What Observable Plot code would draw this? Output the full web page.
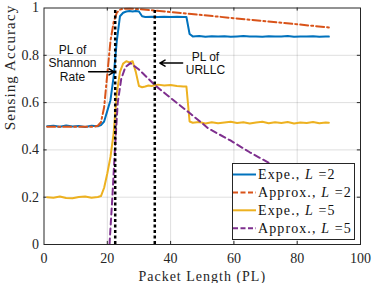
<!DOCTYPE html>
<html>
<head>
<meta charset="utf-8">
<script src="https://cdn.jsdelivr.net/npm/d3@7"></script>
<script src="https://cdn.jsdelivr.net/npm/@observablehq/plot@0.6"></script>
<style>
  html, body { margin: 0; padding: 0; background: #fff; }
  #wrap { position: relative; width: 374px; height: 283px; }
  #legend { position: absolute; left: 232px; top: 163px; width: 121px; height: 75px;
            border: 1px solid #262626; background: #fff; }
  .xlabel { letter-spacing: 1px; }
  .ylabel { letter-spacing: 1.1px; }
</style>
</head>
<body>
<div id="wrap"></div>
<script>
// ---- data ----
const xTicks = [0, 20, 40, 60, 80, 100];
const yTicks = [0, 0.2, 0.4, 0.6, 0.8, 1];

const expeL2X = [1,3,5,7,9,11,13,15,17,18,19,20,21,22,23,24,25,26,27,28,29,30,31,32,34,36,38,40,42,44,45,46,47,49,51,53,55,57,59,61,63,65,67,69,71,73,75,77,79,81,83,85,87,89,90];
const expeL2Y = [0.50,0.502,0.498,0.503,0.499,0.501,0.497,0.502,0.50,0.505,0.52,0.565,0.61,0.71,0.86,0.965,0.98,0.985,0.987,0.985,0.987,0.985,0.965,0.962,0.963,0.962,0.963,0.962,0.963,0.962,0.962,0.89,0.88,0.882,0.878,0.881,0.879,0.881,0.878,0.88,0.882,0.879,0.88,0.878,0.881,0.879,0.88,0.882,0.878,0.88,0.879,0.881,0.878,0.88,0.879];

const approxL2X = [1,16,17,18,19,20,21,22,23,24,25,27,30,40,50,60,70,80,90];
const approxL2Y = [0.498,0.498,0.502,0.517,0.58,0.72,0.86,0.94,0.98,0.993,0.997,0.998,0.995,0.983,0.97,0.957,0.944,0.931,0.918];

const expeL5X = [1,3,5,7,9,11,13,15,17,18,19,20,21,22,23,24,25,26,27,28,29,30,31,32,33,34,36,38,40,42,44,45,46,47,49,51,53,55,57,59,61,63,65,67,69,71,73,75,77,79,81,83,85,87,89,90];
const expeL5Y = [0.20,0.198,0.203,0.197,0.196,0.201,0.203,0.198,0.201,0.205,0.24,0.30,0.37,0.47,0.64,0.73,0.765,0.775,0.77,0.775,0.73,0.67,0.665,0.668,0.672,0.67,0.676,0.672,0.674,0.67,0.668,0.668,0.52,0.515,0.518,0.512,0.517,0.513,0.516,0.519,0.514,0.517,0.512,0.516,0.519,0.513,0.517,0.514,0.518,0.512,0.516,0.514,0.518,0.513,0.516,0.515];

const approxL5X = [20.7,21.6,22.4,23.3,24.4,25.7,27.3,30,35.2,40,46.3,52,58.9,65,71.6,80,90];
const approxL5Y = [0,0.2,0.4,0.6,0.70,0.75,0.767,0.74,0.672,0.62,0.553,0.49,0.44,0.39,0.341,0.28,0.21];

const plLines = [22.5, 35];

const seriesNames = ["Expe., L =2", "Approx., L =2", "Expe., L =5", "Approx., L =5"];
const seriesColors = ["#0072BD", "#D95319", "#EDB120", "#7E2F8E"];
const seriesDash = [null, "8,3,2,3", null, "6,4"];

// annotations
const annShannon = {text: "PL of\nShannon\nRate", x: 9, y: 0.767, ax1: 14.1, ax2: 22.2, ay: 0.73};
const annURLLC = {text: "PL of\nURLLC", x: 51, y: 0.767, ax1: 43.8, ax2: 36.6, ay: 0.767};

// ---- build ----
const toRows = (xs, ys) => xs.map((x, i) => ({x, y: ys[i]}));
const seriesData = [
  toRows(expeL2X, expeL2Y),
  toRows(approxL2X, approxL2Y),
  toRows(expeL5X, expeL5Y),
  toRows(approxL5X, approxL5Y)
];

const serif = "Liberation Serif, Times New Roman, serif";
const sans = "Liberation Sans, Arial, sans-serif";

const marks = [
  Plot.gridX(xTicks.slice(1, -1), {stroke: "#000", strokeOpacity: 0.13}),
  Plot.gridY(yTicks.slice(1, -1), {stroke: "#000", strokeOpacity: 0.13}),
  Plot.axisX(xTicks, {tickSize: 0, tickPadding: 9, fontSize: 14, fontFamily: serif, fill: "#262626", label: null}),
  Plot.axisY(yTicks, {tickSize: 0, tickPadding: 5, fontSize: 14, fontFamily: serif, fill: "#262626", label: null, tickFormat: d => String(d)}),
  // inward ticks (bottom/top, left/right)
  Plot.ruleX(xTicks.slice(1, -1), {y1: 0, y2: 0.013, stroke: "#262626"}),
  Plot.ruleX(xTicks.slice(1, -1), {y1: 1, y2: 0.987, stroke: "#262626"}),
  Plot.ruleY(yTicks.slice(1, -1), {x1: 0, x2: 1, stroke: "#262626"}),
  Plot.ruleY(yTicks.slice(1, -1), {x1: 100, x2: 99, stroke: "#262626"}),
];

seriesData.forEach((d, i) => {
  marks.push(Plot.line(d, {x: "x", y: "y", stroke: seriesColors[i], strokeWidth: 2,
    strokeDasharray: seriesDash[i] || undefined, clip: true}));
});

marks.push(Plot.ruleX(plLines, {y1: 0, y2: 1, stroke: "#000", strokeWidth: 2.5, strokeDasharray: "3,2.5"}));

for (const a of [annShannon, annURLLC]) {
  marks.push(Plot.text([a], {x: "x", y: "y", text: "text", fontSize: 12, fontFamily: sans, fill: "#111", lineHeight: 1.13}));
  marks.push(Plot.arrow([a], {x1: "ax1", x2: "ax2", y1: "ay", y2: "ay", stroke: "#000", strokeWidth: 1.5, headLength: 6}));
}

marks.push(Plot.frame({stroke: "#262626", strokeWidth: 1}));
marks.push(Plot.text(["Packet Length (PL)"], {frameAnchor: "bottom", dy: 36, fontSize: 14, fontFamily: serif, fill: "#262626", className: "xlabel"}));
marks.push(Plot.text(["Sensing Accuracy"], {frameAnchor: "left", rotate: -90, dx: -34, dy: 4, fontSize: 15, fontFamily: serif, fill: "#262626", className: "ylabel"}));

const chart = Plot.plot({
  width: 374,
  height: 283,
  marginLeft: 43.5,
  marginRight: 14,
  marginTop: 7.5,
  marginBottom: 39,
  x: {domain: [0, 100], axis: null},
  y: {domain: [0, 1], axis: null},
  style: {background: "#fff", overflow: "visible"},
  marks
});
const wrap = document.getElementById("wrap");
wrap.appendChild(chart);

// legend (HTML overlay)
const legend = document.createElement("div");
legend.id = "legend";
const ns = "http://www.w3.org/2000/svg";
const lsvg = document.createElementNS(ns, "svg");
lsvg.setAttribute("width", 121);
lsvg.setAttribute("height", 75);
seriesNames.forEach((name, i) => {
  const cy = 10.5 + i * 17.9;
  const ln = document.createElementNS(ns, "line");
  ln.setAttribute("x1", 0); ln.setAttribute("x2", 23);
  ln.setAttribute("y1", cy); ln.setAttribute("y2", cy);
  ln.setAttribute("stroke", seriesColors[i]);
  ln.setAttribute("stroke-width", 2);
  if (seriesDash[i]) ln.setAttribute("stroke-dasharray", "5,2.5");
  lsvg.appendChild(ln);
  const t = document.createElementNS(ns, "text");
  t.setAttribute("x", 25);
  t.setAttribute("y", cy + 4.8);
  t.setAttribute("font-family", serif);
  t.setAttribute("font-size", 14);
  t.setAttribute("letter-spacing", "1.1");
  t.setAttribute("fill", "#111");
  const parts = name.split("L");
  t.appendChild(document.createTextNode(parts[0]));
  const it = document.createElementNS(ns, "tspan");
  it.setAttribute("font-style", "italic");
  it.textContent = "L";
  t.appendChild(it);
  t.appendChild(document.createTextNode(" " + parts[1].trim()));
  lsvg.appendChild(t);
});
legend.appendChild(lsvg);
wrap.appendChild(legend);
</script>
</body>
</html>
